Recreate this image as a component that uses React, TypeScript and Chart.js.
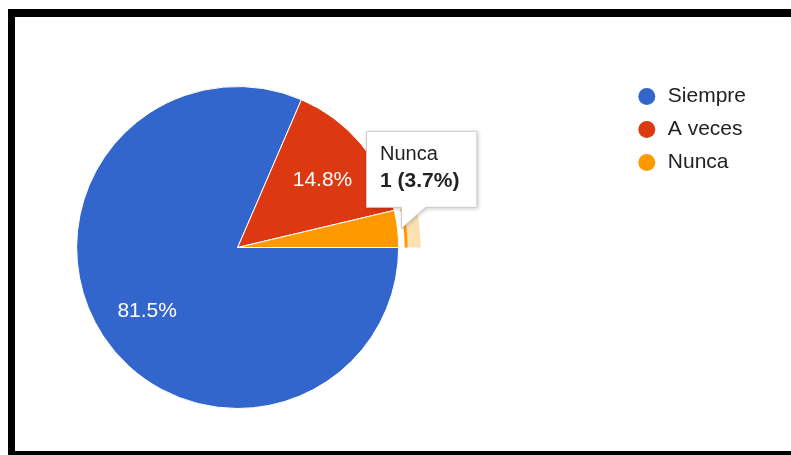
import React, { useEffect, useRef } from "react";
import { Chart, registerables } from "chart.js";

Chart.register(...registerables);

// ---- data ----
const categories: string[] = ["Siempre", "A veces", "Nunca"];
const counts: number[] = [22, 4, 1];
const sliceColors: string[] = ["#3366cc", "#dc3912", "#ff9900"];
const highlightedCategory = "Nunca";

const FONT = "'Liberation Sans', Arial, Helvetica, sans-serif";

function pctText(v: number, total: number): string {
  return ((v * 100) / total).toFixed(1) + "%";
}

function hexToRgba(hex: string, a: number): string {
  const h = hex.replace("#", "");
  const r = parseInt(h.slice(0, 2), 16);
  const g = parseInt(h.slice(2, 4), 16);
  const b = parseInt(h.slice(4, 6), 16);
  return `rgba(${r},${g},${b},${a})`;
}

const sliceLabelsPlugin = {
  id: "sliceLabels",
  afterDatasetsDraw(chart: any) {
    const ctx = chart.ctx;
    const meta = chart.getDatasetMeta(0);
    const data = chart.data.datasets[0].data as number[];
    const total = data.reduce((a, b) => a + b, 0);
    const hi = chart.data.labels.indexOf(highlightedCategory);

    // hover ring around highlighted slice
    if (hi >= 0) {
      const el = meta.data[hi];
      const p = el.getProps(["x", "y", "startAngle", "endAngle", "outerRadius"], true);
      const col = chart.data.datasets[0].backgroundColor[hi];
      ctx.save();
      ctx.beginPath();
      ctx.arc(p.x, p.y, p.outerRadius + 9, p.startAngle, p.endAngle);
      ctx.arc(p.x, p.y, p.outerRadius + 6, p.endAngle, p.startAngle, true);
      ctx.closePath();
      ctx.fillStyle = col;
      ctx.fill();
      ctx.beginPath();
      ctx.arc(p.x, p.y, p.outerRadius + 22, p.startAngle, p.endAngle);
      ctx.arc(p.x, p.y, p.outerRadius + 9, p.endAngle, p.startAngle, true);
      ctx.closePath();
      ctx.fillStyle = hexToRgba(col, 0.3);
      ctx.fill();
      ctx.restore();
    }

    ctx.save();
    ctx.font = `21px ${FONT}`;
    ctx.fillStyle = "#ffffff";
    ctx.textAlign = "center";
    ctx.textBaseline = "alphabetic";
    meta.data.forEach((el: any, i: number) => {
      const v = data[i];
      if (v / total < 0.05) return;
      const p = el.getProps(["x", "y", "startAngle", "endAngle", "outerRadius"], true);
      const mid = (p.startAngle + p.endAngle) / 2;
      const d = p.outerRadius * 0.68;
      ctx.fillText(pctText(v, total), p.x + Math.cos(mid) * d + 1, p.y + Math.sin(mid) * d + 9);
    });
    ctx.restore();
  },
};

const fixedTooltipPlugin = {
  id: "fixedTooltip",
  afterDraw(chart: any) {
    const hi = chart.data.labels.indexOf(highlightedCategory);
    if (hi < 0) return;
    const ctx = chart.ctx;
    const meta = chart.getDatasetMeta(0);
    const data = chart.data.datasets[0].data as number[];
    const total = data.reduce((a, b) => a + b, 0);
    const el = meta.data[hi];
    const p = el.getProps(["x", "y", "startAngle", "endAngle", "outerRadius"], true);
    const mid = (p.startAngle + p.endAngle) / 2;
    const tipX = p.x + Math.cos(mid) * (p.outerRadius + 4);
    const tipY = p.y + Math.sin(mid) * (p.outerRadius + 4);

    const title = chart.data.labels[hi];
    const body = `${data[hi]} (${pctText(data[hi], total)})`;
    ctx.save();
    ctx.font = `bold 21px ${FONT}`;
    const bw = ctx.measureText(body).width;
    ctx.font = `20px ${FONT}`;
    const tw = ctx.measureText(title).width;
    const w = Math.max(bw, tw) + 31;
    const h = 76;
    const left = tipX - 35;
    const bottom = tipY - 21;
    const top = bottom - h;
    const right = left + w;

    ctx.beginPath();
    ctx.moveTo(left, top);
    ctx.lineTo(right, top);
    ctx.lineTo(right, bottom);
    ctx.lineTo(tipX + 24, bottom);
    ctx.lineTo(tipX, tipY);
    ctx.lineTo(tipX, bottom);
    ctx.lineTo(left, bottom);
    ctx.closePath();
    ctx.shadowColor = "rgba(0,0,0,0.25)";
    ctx.shadowBlur = 4;
    ctx.shadowOffsetX = 1;
    ctx.shadowOffsetY = 1;
    ctx.fillStyle = "#ffffff";
    ctx.fill();
    ctx.shadowColor = "transparent";
    ctx.strokeStyle = "#cccccc";
    ctx.lineWidth = 1;
    ctx.stroke();

    ctx.fillStyle = "#222222";
    ctx.textAlign = "left";
    ctx.textBaseline = "alphabetic";
    ctx.font = `20px ${FONT}`;
    ctx.fillText(title, left + 13.5, top + 29);
    ctx.font = `bold 21px ${FONT}`;
    ctx.fillText(body, left + 13.5, top + 56);
    ctx.restore();
  },
};

export default function App() {
  const canvasRef = useRef<HTMLCanvasElement | null>(null);

  useEffect(() => {
    document.body.style.overflow = "hidden";
    const canvas = canvasRef.current;
    if (!canvas) return;
    const baseGen = (Chart as any).overrides.pie.plugins.legend.labels.generateLabels;
    const chart = new Chart(canvas, {
      type: "pie",
      data: {
        labels: categories,
        datasets: [
          {
            data: counts,
            backgroundColor: sliceColors,
            borderColor: "#ffffff",
            borderWidth: 1,
            hoverOffset: 0,
          },
        ],
      },
      options: {
        responsive: false,
        animation: false,
        events: [],
        rotation: 90,
        radius: 161,
        layout: { padding: { top: 57, bottom: 30, left: 0, right: 20 } },
        plugins: {
          tooltip: { enabled: false },
          legend: {
            position: "right",
            align: "start",
            labels: {
              usePointStyle: true,
              pointStyle: "circle",
              boxHeight: 12,
              padding: 12,
              color: "#222222",
              font: { size: 21, family: FONT },
              generateLabels: (c: any) =>
                baseGen(c).map((it: any) => ({ ...it, lineWidth: 0, strokeStyle: it.fillStyle })),
            },
          },
        },
      } as any,
      plugins: [sliceLabelsPlugin, fixedTooltipPlugin],
    });
    return () => chart.destroy();
  }, []);

  return (
    <div
      style={{
        position: "fixed",
        left: 8,
        top: 9,
        width: 820,
        height: 434,
        borderLeft: "7px solid #000",
        borderTop: "8px solid #000",
        borderBottom: "8px solid #000",
        background: "#fff",
        overflow: "hidden",
      }}
    >
      <canvas
        ref={canvasRef}
        width={925}
        height={434}
        style={{ position: "absolute", left: -164, top: 0, width: 925, height: 434 }}
      />
    </div>
  );
}
